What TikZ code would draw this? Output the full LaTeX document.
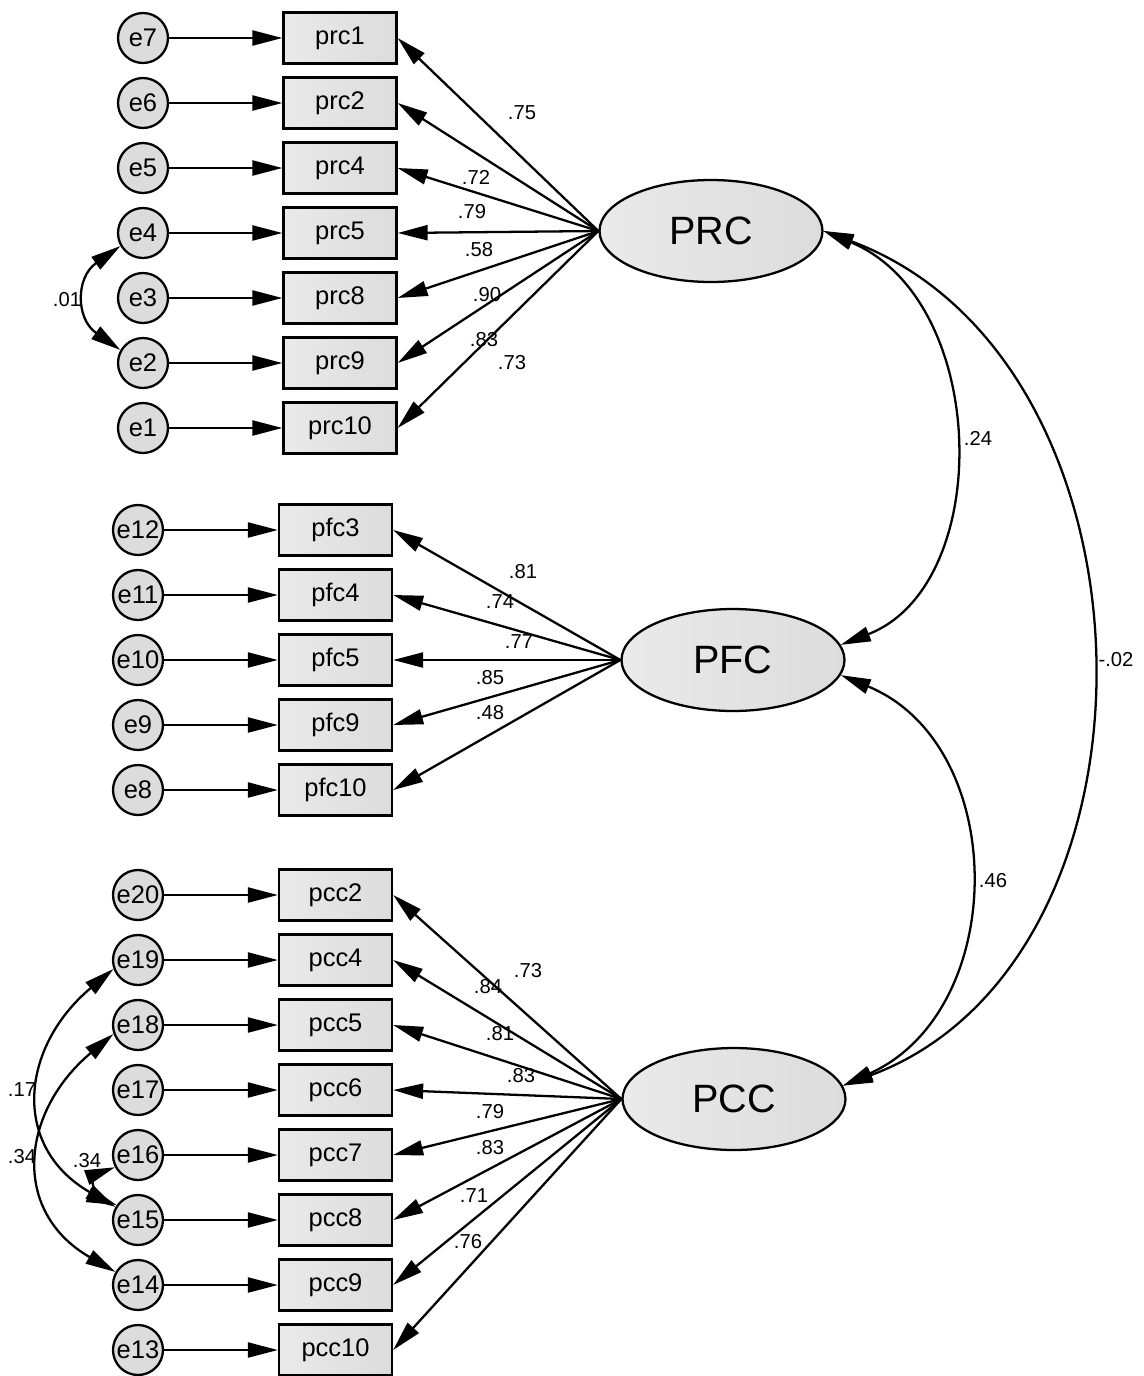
\documentclass[tikz,border=0pt]{standalone}
\usepackage{fontspec}
\setmainfont{Liberation Sans}
\usetikzlibrary{positioning,shapes,arrows.meta,calc}
\definecolor{boxgray}{RGB}{220,220,220}
\definecolor{boxlight}{RGB}{234,234,234}

\tikzset{
  errnode/.style={circle, draw, fill=boxgray, minimum size=1.0cm, inner sep=0pt, font=\fontsize{14.5}{17}\selectfont},
  itembox/.style={rectangle, draw, left color=boxlight, right color=boxgray, minimum width=2.26cm, minimum height=1.02cm, inner sep=0pt, font=\fontsize{14.5}{17}\selectfont},
  factor/.style={ellipse, draw, left color=boxlight, right color=boxgray, minimum width=4.46cm, minimum height=2.04cm, inner sep=0pt, font=\fontsize{22.5}{26}\selectfont},
  coef/.style={inner sep=0pt, font=\fontsize{11.5}{13}\selectfont},
}

\begin{document}
\begin{tikzpicture}[x=0.02cm, y=-0.02cm, line width=1.3pt, >={Triangle[length=0.6cm,width=0.3cm]}]
  \useasboundingbox (0,0) rectangle (1143,1376);

  % latent factors
  \node[factor] (PRC) at (711,231) {PRC};
  \node[factor] (PFC) at (733,660) {PFC};
  \node[factor] (PCC) at (734,1099) {PCC};

  % PRC items
  \foreach \e/\o/\y in {e7/prc1/38, e6/prc2/103, e5/prc4/168, e4/prc5/233, e3/prc8/298, e2/prc9/363, e1/prc10/428}{
    \node[errnode] (\e) at (143,\y) {\e};
    \node[itembox] (\o) at (340,\y) {\o};
    \draw[->] (\e) -- (\o);
    \draw[->] (PRC.west) -- (\o.east);
  }

  % PFC items
  \foreach \e/\o/\y in {e12/pfc3/530, e11/pfc4/595, e10/pfc5/660, e9/pfc9/725, e8/pfc10/790}{
    \node[errnode] (\e) at (138,\y) {\e};
    \node[itembox] (\o) at (335.5,\y) {\o};
    \draw[->] (\e) -- (\o);
    \draw[->] (PFC.west) -- (\o.east);
  }

  % PCC items
  \foreach \e/\o/\y in {e20/pcc2/895, e19/pcc4/960, e18/pcc5/1025, e17/pcc6/1090, e16/pcc7/1155, e15/pcc8/1220, e14/pcc9/1285, e13/pcc10/1350}{
    \node[errnode] (\e) at (138,\y) {\e};
    \node[itembox] (\o) at (335.5,\y) {\o};
    \draw[->] (\e) -- (\o);
    \draw[->] (PCC.west) -- (\o.east);
  }

  % covariances
  \draw[<->] (PRC.east) .. controls (990,300) and (995,585) .. (PFC.8);
  \draw[<->] (PFC.-8) .. controls (1010,745) and (1010,1010) .. (PCC.7);
  \draw[<->] (PRC.east) .. controls (1170,360) and (1180,960) .. (PCC.7);
  \draw[<->] (e4.210) to[out=215,in=145,looseness=1.35] (e2.150);
  \draw[<->] (e19.200) to[out=220,in=150,looseness=1.3] (e15.150);
  \draw[<->] (e18.200) to[out=220,in=150,looseness=1.3] (e14.150);
  \draw[<->] (e16.208) to[out=200,in=160,looseness=1.5] (e15.145);

  % estimates
  \foreach \x/\y/\t [count=\k] in {522/113/.75, 476/177/.72, 472/212/.79, 479/250/.58, 487/295/.90, 484/340/.83, 512/363/.73,
      523/572/.81, 500/602/.74, 519/642/.77, 490/678/.85, 490/713/.48,
      528/971/.73, 488/987/.84, 500/1034/.81, 521/1076/.83, 490/1112/.79, 490/1148/.83, 474/1196/.71, 468/1242/.76,
      978/438/.24, 993/881/.46, 1116/660/-.02, 67/300/.01, 22/1090/.17, 22/1157/.34, 87/1161/.34}
    \node[coef] (est\k) at (\x,\y) {\t};
\end{tikzpicture}
\end{document}
